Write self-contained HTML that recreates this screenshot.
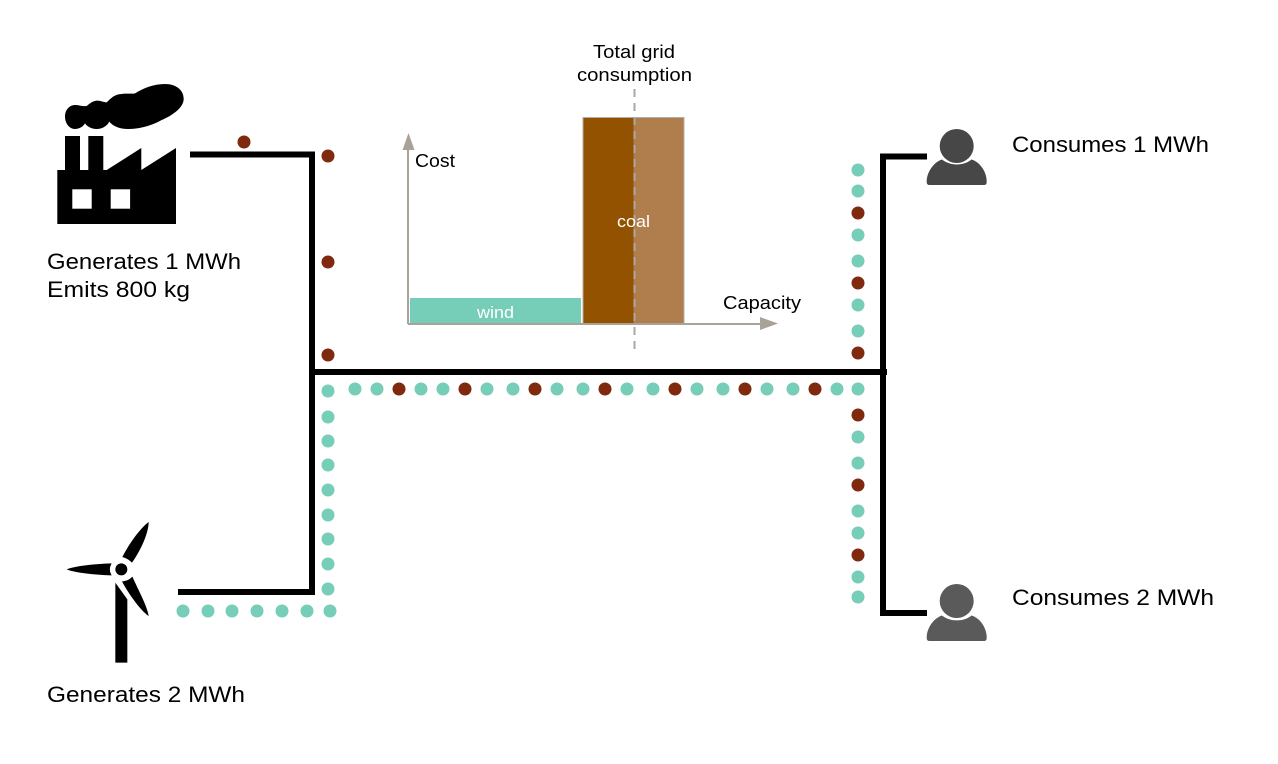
<!DOCTYPE html>
<html><head><meta charset="utf-8"><style>
html,body{margin:0;padding:0;background:#fff;width:1278px;height:764px;overflow:hidden}
svg{display:block}
text{font-family:"Liberation Sans",sans-serif}
</style></head><body>
<svg width="1278" height="764" viewBox="0 0 1278 764" xmlns="http://www.w3.org/2000/svg">
<rect width="1278" height="764" fill="#fff"/>
<!-- factory -->
<g fill="#000">
<path d="M57.300 224V170H65V136H80V170H88.300V136H103.300V170H106.700L141.300 148V170L176 148V224Z"/>
<path transform="translate(40 70) scale(.33333)" d="M75 140C75 118 90 105 105 105C118 105 128 110 140 108C150 100 160 92 172 92C182 92 190 97 200 97C212 85 225 72 245 72C260 70 275 72 285 70C310 55 340 42 375 42C410 42 432 62 431 88C430 112 400 135 365 150C340 165 300 177 265 177C240 177 220 170 208 155C200 170 185 177 170 177C155 177 142 170 135 160C128 172 115 177 105 177C88 177 75 160 75 140Z"/>
</g>
<rect x="72.300" y="189.300" width="19.400" height="19.400" fill="#fff"/>
<rect x="110.700" y="189.300" width="19.400" height="19.400" fill="#fff"/>
<!-- turbine -->
<g transform="translate(50 510) scale(.33333)" fill="#000">
<path d="M196 218L232 268V458H196Z"/>
<path d="M50 178C75 168 130 162 185 160C178 172 178 184 185 196C130 194 75 188 50 178Z"/>
<path d="M296 36C296 70 270 125 246 158C238 150 228 144 217 141C235 105 270 55 296 36Z"/>
<path d="M247 200C265 240 292 290 296 318C270 300 235 250 216 214C228 214 240 208 247 200Z"/>
<circle cx="214" cy="178" r="18"/>
</g>
<!-- persons -->
<g fill="#474747">
<path d="M926.700 182C926.500 172 934 162 942 159.500C950 166 964 166 971.500 159.500C980 162 987 172 986.700 182Q986.700 185 984 185H929.500Q926.700 185 926.700 182Z"/>
<circle cx="956.700" cy="146" r="18.500" fill="#fff"/>
<circle cx="956.700" cy="146" r="17"/>
</g>
<g fill="#5a5a5a">
<path d="M926.700 638C926.500 628 934 618 942 615.500C950 622 964 622 971.500 615.500C980 618 987 628 986.700 638Q986.700 641 984 641H929.500Q926.700 641 926.700 638Z"/>
<circle cx="956.700" cy="601" r="18.500" fill="#fff"/>
<circle cx="956.700" cy="601" r="17"/>
</g>
<!-- wires -->
<g fill="none" stroke="#000" stroke-width="6">
<path d="M190 154.500H312V592H178"/>
<path d="M312 372H887"/>
<path d="M927 156.500H883V613H927"/>
</g>
<!-- chart -->
<rect x="410" y="298" width="171" height="26" fill="#76cdb8"/>
<rect x="583" y="117.500" width="50.500" height="206.500" fill="#935200"/>
<rect x="633.500" y="117.500" width="50.500" height="206.500" fill="#b07d4c"/>
<rect x="583" y="117.500" width="101" height="206.500" fill="none" stroke="#b4aea5" stroke-width="1"/>
<g stroke="#a9a297" stroke-width="2" fill="none">
<path d="M408 324V145"/>
<path d="M408 324H762"/>
</g>
<path d="M402.500 150L408.500 133L414.500 150Z" fill="#a9a297"/>
<path d="M760 317L778 323.500L760 330Z" fill="#a9a297"/>
<path d="M634.500 89V355" stroke="#a9a9a9" stroke-width="2" stroke-dasharray="8 6" fill="none"/>
<!-- dots -->
<g fill="#76cdb8">
<circle cx="355" cy="389" r="6.500"/><circle cx="377" cy="389" r="6.500"/><circle cx="421" cy="389" r="6.500"/><circle cx="443" cy="389" r="6.500"/><circle cx="487" cy="389" r="6.500"/><circle cx="513" cy="389" r="6.500"/><circle cx="557" cy="389" r="6.500"/><circle cx="583" cy="389" r="6.500"/><circle cx="627" cy="389" r="6.500"/><circle cx="653" cy="389" r="6.500"/><circle cx="697" cy="389" r="6.500"/><circle cx="723" cy="389" r="6.500"/><circle cx="767" cy="389" r="6.500"/><circle cx="793" cy="389" r="6.500"/><circle cx="837" cy="389" r="6.500"/><circle cx="858" cy="389" r="6.500"/>
<circle cx="858" cy="170" r="6.500"/><circle cx="858" cy="191" r="6.500"/><circle cx="858" cy="235" r="6.500"/><circle cx="858" cy="261" r="6.500"/><circle cx="858" cy="305" r="6.500"/><circle cx="858" cy="331" r="6.500"/>
<circle cx="858" cy="437" r="6.500"/><circle cx="858" cy="463" r="6.500"/><circle cx="858" cy="511" r="6.500"/><circle cx="858" cy="533" r="6.500"/><circle cx="858" cy="577" r="6.500"/><circle cx="858" cy="597" r="6.500"/>
<circle cx="328" cy="391" r="6.500"/><circle cx="328" cy="417" r="6.500"/><circle cx="328" cy="441" r="6.500"/><circle cx="328" cy="465" r="6.500"/><circle cx="328" cy="490" r="6.500"/><circle cx="328" cy="515" r="6.500"/><circle cx="328" cy="539" r="6.500"/><circle cx="328" cy="564" r="6.500"/><circle cx="328" cy="589" r="6.500"/><circle cx="330" cy="611" r="6.500"/>
<circle cx="183" cy="611" r="6.500"/><circle cx="208" cy="611" r="6.500"/><circle cx="232" cy="611" r="6.500"/><circle cx="257" cy="611" r="6.500"/><circle cx="282" cy="611" r="6.500"/><circle cx="307" cy="611" r="6.500"/>
</g>
<g fill="#7f2a0e">
<circle cx="244" cy="142" r="6.500"/><circle cx="328" cy="156" r="6.500"/><circle cx="328" cy="262" r="6.500"/><circle cx="328" cy="355" r="6.500"/>
<circle cx="399" cy="389" r="6.500"/><circle cx="465" cy="389" r="6.500"/><circle cx="535" cy="389" r="6.500"/><circle cx="605" cy="389" r="6.500"/><circle cx="675" cy="389" r="6.500"/><circle cx="745" cy="389" r="6.500"/><circle cx="815" cy="389" r="6.500"/>
<circle cx="858" cy="213" r="6.500"/><circle cx="858" cy="283" r="6.500"/><circle cx="858" cy="353" r="6.500"/><circle cx="858" cy="415" r="6.500"/><circle cx="858" cy="485" r="6.500"/><circle cx="858" cy="555" r="6.500"/>
</g>
<!-- labels -->
<g font-size="22.500" fill="#000">
<text x="47" y="269" textLength="194" lengthAdjust="spacingAndGlyphs">Generates 1 MWh</text>
<text x="47" y="297" textLength="143" lengthAdjust="spacingAndGlyphs">Emits 800 kg</text>
<text x="47" y="702" textLength="198" lengthAdjust="spacingAndGlyphs">Generates 2 MWh</text>
<text x="1012" y="152" textLength="197" lengthAdjust="spacingAndGlyphs">Consumes 1 MWh</text>
<text x="1012" y="605" textLength="202" lengthAdjust="spacingAndGlyphs">Consumes 2 MWh</text>
</g>
<g font-size="18" fill="#000">
<text x="593" y="58" textLength="82" lengthAdjust="spacingAndGlyphs">Total grid</text>
<text x="577" y="81" textLength="115" lengthAdjust="spacingAndGlyphs">consumption</text>
<text x="415" y="167" textLength="40" lengthAdjust="spacingAndGlyphs">Cost</text>
<text x="723" y="309" textLength="78" lengthAdjust="spacingAndGlyphs">Capacity</text>
</g>
<g font-size="16.500" fill="#fff">
<text x="617" y="227" textLength="33" lengthAdjust="spacingAndGlyphs">coal</text>
<text x="477" y="318" textLength="37" lengthAdjust="spacingAndGlyphs">wind</text>
</g>
</svg>
</body></html>
